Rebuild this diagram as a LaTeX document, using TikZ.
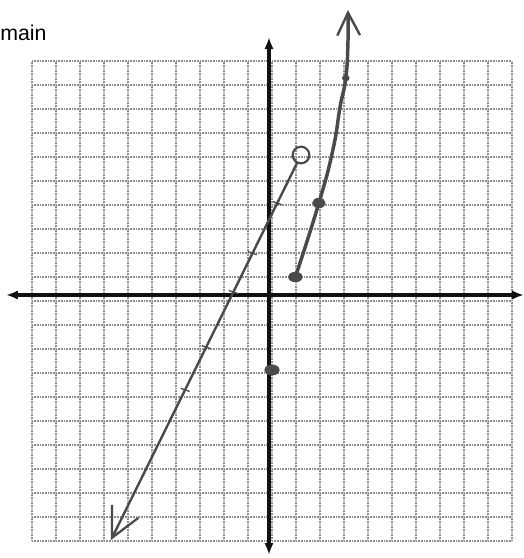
\documentclass[tikz,border=0pt]{standalone}
\usepackage{fontspec}
\setmainfont{Liberation Sans}
\usepackage{tikz}
\usetikzlibrary{arrows.meta, calc}
\definecolor{cgrid}{HTML}{8E8E8E}
\definecolor{cpencil}{HTML}{4A4A4A}
\definecolor{caxis}{HTML}{111111}

\tikzset{
  gridline/.style={cgrid, line width=1.2pt, dash pattern=on 0.7pt off 0.5pt},
  axisline/.style={caxis, line width=2.7pt, -{Latex[length=9pt,width=7pt]}},
  pencil/.style={cpencil, line width=1.8pt, line cap=round},
  dotmark/.style={fill=cpencil, draw=cpencil, line width=0.6pt},
  hollow/.style={circle, draw=cpencil, line width=1.6pt, minimum size=12.5pt, inner sep=0pt}
}

\begin{document}
\begin{tikzpicture}[x=18pt, y=18pt]
  \useasboundingbox (-11.208,-10.958) rectangle (10.625,12.292);
  \foreach \i in {0,...,20}{
    \draw[gridline] (-9.875+\i, -10.25) -- (-9.875+\i, 9.75);
    \draw[gridline] (-9.875, -10.25+\i) -- (10.125, -10.25+\i);
  }
  \coordinate (xl) at (-10.958,0);
  \coordinate (xr) at (10.625,0);
  \coordinate (yb) at (0,-10.833);
  \coordinate (yt) at (0,10.75);
  \draw[axisline] (0,0) -- (xl);
  \draw[axisline] (0,0) -- (xr);
  \draw[axisline] (0,0) -- (yb);
  \draw[axisline] (0,0) -- (yt);
  \node[anchor=base west, inner sep=0pt, font=\fontsize{16}{18}\selectfont] (title) at (-11.208,10.625) {main};

  \node[hollow] (oc) at (1.333,5.833) {};
  \coordinate (tipL) at (-6.583,-10.208);
  \draw[pencil, -{Straight Barb[length=22pt,width=22pt,line width=1.7pt]}] (oc) -- (tipL);
  \foreach \t in {0.125,0.255,0.356,0.499,0.61}{
    \draw[pencil, line width=1pt] ($(oc)!\t!(tipL)$) ++(-0.17,0.06) -- ++(0.34,-0.12);
  }

  \coordinate (pa) at (1.1,0.75);
  \coordinate (pb) at (2.08,3.833);
  \coordinate (pc) at (2.67,6.08);
  \coordinate (pd) at (2.96,7.83);
  \coordinate (pe) at (3.2,9.04);
  \coordinate (tipU) at (3.29,11.875);
  \draw[pencil, line width=2.6pt, -{Straight Barb[length=17pt,width=17pt,line width=1.8pt]}]
    plot[smooth, tension=0.8] coordinates {(pa) (pb) (pc) (pd) (pe) (3.29,10.5) (tipU)};
  \fill[dotmark] (pa) ellipse (0.28 and 0.2);
  \fill[dotmark] (pb) ellipse (0.26 and 0.2);
  \fill[dotmark] (pe) ellipse (0.14 and 0.12);

  \fill[dotmark] (0.125,-3.125) ellipse (0.3 and 0.21);
\end{tikzpicture}
\end{document}
